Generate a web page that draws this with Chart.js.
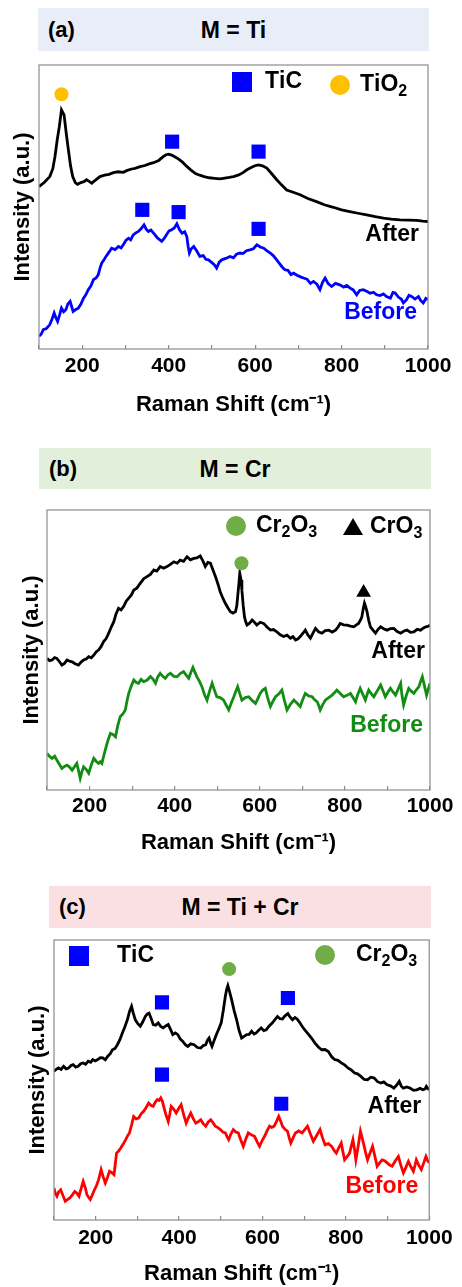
<!DOCTYPE html>
<html>
<head>
<meta charset="utf-8">
<script src="https://cdn.jsdelivr.net/npm/chart.js@4.4.0/dist/chart.umd.min.js"></script>
<style>
  body { margin: 0; background: #fff; }
  #page { position: relative; width: 462px; height: 1287px; font-family: "Liberation Sans", Arial, sans-serif; }
  .band { position: absolute; font-weight: bold; font-size: 23px; color: #000; }
  .band .tag { position: absolute; left: 10px; top: 50%; transform: translateY(-50%); font-size: 22px; }
  .band .name { position: absolute; left: 0; right: 0; top: 50%; transform: translateY(-50%); text-align: center; }
  canvas { position: absolute; left: 0; }
</style>
</head>
<body>
<div id="page">
  <div class="band" style="left:38px;top:8px;width:391px;height:43px;background:#e9edf7;">
    <span class="tag">(a)</span><span class="name">M = Ti</span>
  </div>
  <div class="band" style="left:39px;top:448px;width:392px;height:41px;background:#e2efda;">
    <span class="tag">(b)</span><span class="name">M = Cr</span>
  </div>
  <div class="band" style="left:49px;top:886px;width:382px;height:42px;background:#fbe0e3;">
    <span class="tag">(c)</span><span class="name">M = Ti + Cr</span>
  </div>
  <canvas id="chartA" width="462" height="375" style="top:55px"></canvas>
  <canvas id="chartB" width="462" height="370" style="top:490px"></canvas>
  <canvas id="chartC" width="462" height="357" style="top:930px"></canvas>
</div>

<script>
// x ticks that get a label (every 100 gets a tick mark)
const xTickLabels = [200, 400, 600, 800, 1000];

// (a) M = Ti
const aAfter = [[100,57.2],[112,58.6],[125,60.7],[132,63.5],[137,67.8],[142,73.5],[147,78.3],[152,84.2],[158,82.4],[163,76.0],[168,70.1],[173,64.5],[178,60.7],[184,58.6],[189,58.0],[197,58.6],[205,59.0],[210,59.6],[216,59.0],[222,58.4],[230,59.4],[241,60.7],[252,61.2],[262,61.5],[272,62.1],[283,62.4],[295,62.2],[303,62.8],[312,63.3],[322,63.6],[334,64.2],[345,64.6],[355,65.2],[365,65.6],[377,66.4],[388,67.8],[394,68.4],[400,68.6],[408,68.2],[420,67.2],[432,65.8],[442,64.3],[451,63.1],[462,61.8],[472,61.2],[482,60.7],[494,60.3],[506,60.1],[519,59.9],[530,60.2],[540,60.4],[550,60.7],[562,61.3],[572,62.1],[581,63.1],[592,64.0],[601,64.6],[608,64.8],[617,64.5],[627,63.7],[638,61.8],[650,59.6],[661,57.8],[673,56.0],[688,55.2],[704,54.3],[722,53.0],[742,51.9],[760,50.8],[781,49.9],[800,49.0],[819,48.4],[838,47.8],[858,47.2],[878,46.6],[897,46.1],[915,45.7],[935,45.5],[955,45.4],[974,45.3],[988,45.0],[1000,44.9]];
const aBefore = [[100,4.5],[105,5.2],[110,6.8],[117,7.2],[125,8.6],[130,10.5],[135,12.7],[139,11.0],[143,9.7],[148,12.2],[152,14.4],[157,13.1],[162,13.8],[167,15.9],[172,16.8],[176,14.7],[179,13.2],[185,13.9],[191,14.4],[197,15.8],[203,17.9],[208,19.0],[214,20.9],[220,22.2],[226,24.4],[232,25.0],[237,26.1],[241,28.4],[245,30.2],[250,31.3],[255,32.6],[262,34.1],[268,35.5],[276,35.0],[284,36.1],[290,35.6],[295,36.7],[301,38.2],[307,39.0],[312,38.4],[318,40.2],[324,40.9],[330,41.4],[336,42.3],[343,43.7],[348,42.2],[353,41.4],[359,41.9],[365,40.8],[374,39.1],[384,37.9],[390,39.0],[395,40.2],[401,41.6],[407,42.0],[413,42.6],[419,44.1],[425,42.0],[431,40.8],[437,41.3],[442,39.6],[445,36.2],[448,33.8],[452,35.2],[458,36.1],[465,34.5],[472,32.6],[480,32.9],[486,31.6],[492,31.4],[500,30.4],[506,29.6],[511,28.5],[517,30.6],[523,31.4],[532,31.9],[542,32.6],[550,32.1],[557,33.4],[565,33.8],[572,33.6],[580,34.6],[588,34.9],[596,35.3],[604,36.7],[612,35.9],[620,35.5],[627,34.6],[635,33.8],[642,32.9],[650,31.4],[657,30.0],[663,28.8],[669,27.9],[676,27.7],[683,26.2],[689,26.7],[697,26.0],[705,25.4],[712,25.0],[720,24.6],[728,23.1],[735,23.8],[743,22.8],[750,20.9],[756,23.5],[762,25.0],[769,23.0],[777,22.0],[786,23.1],[796,22.6],[805,21.8],[812,22.4],[819,21.5],[827,20.8],[835,19.1],[842,20.6],[850,20.9],[858,20.3],[866,19.6],[874,20.0],[881,19.1],[889,18.8],[897,19.4],[904,18.5],[913,17.9],[919,19.9],[924,19.7],[932,18.2],[938,17.6],[943,16.2],[950,17.3],[956,18.9],[962,18.5],[970,17.6],[978,18.5],[983,17.1],[989,16.2],[995,17.8],[1000,17.4]];
const aTiC = [[408,73.0],[608,69.5],[339,49.0],[423,48.2],[608,42.3]];
const aTiO2 = [[152,89.7]];

// (b) M = Cr
const bAfter = [[100,47.0],[106,46.2],[112,46.4],[118,47.3],[123,47.0],[129,45.9],[135,44.6],[141,45.2],[147,46.4],[153,46.0],[159,45.8],[166,45.1],[174,44.6],[180,45.7],[186,46.4],[192,46.8],[198,47.6],[204,47.2],[210,48.2],[216,49.4],[221,50.0],[227,51.2],[233,53.0],[239,54.1],[245,56.0],[251,58.2],[257,60.1],[262,62.8],[268,64.9],[274,64.3],[280,65.5],[286,67.4],[292,68.5],[298,69.6],[304,71.4],[311,72.1],[319,73.8],[327,75.4],[335,76.2],[343,77.0],[351,78.6],[358,78.2],[366,79.8],[374,79.2],[382,79.8],[390,80.6],[398,81.5],[406,81.0],[413,82.1],[421,81.7],[429,83.3],[437,82.2],[445,82.7],[452,82.9],[460,83.6],[466,81.9],[472,79.8],[478,81.3],[484,81.0],[490,78.6],[496,76.2],[502,73.4],[507,70.8],[513,68.6],[519,66.7],[525,65.1],[531,63.7],[537,63.2],[543,63.7],[546,65.8],[548,69.0],[551,73.8],[553,77.4],[556,75.0],[558,71.4],[561,66.0],[564,61.9],[567,60.1],[570,58.9],[576,59.6],[582,60.7],[588,59.8],[593,58.9],[601,59.9],[609,59.5],[617,58.2],[625,57.1],[632,57.3],[640,56.5],[648,55.4],[656,54.8],[664,55.3],[672,54.2],[678,54.8],[684,53.6],[690,54.0],[695,54.8],[701,55.9],[707,57.1],[713,55.4],[719,54.2],[725,56.0],[731,57.7],[738,56.5],[746,56.0],[754,56.9],[762,57.1],[770,56.4],[778,57.1],[784,58.2],[789,59.5],[797,59.0],[805,58.9],[813,58.5],[821,58.3],[827,59.0],[832,59.5],[837,60.8],[840,61.9],[843,64.6],[846,66.7],[849,65.4],[852,63.7],[856,60.6],[860,58.3],[866,57.1],[872,56.0],[878,57.4],[884,58.3],[891,57.6],[899,57.1],[907,57.6],[915,57.7],[923,56.6],[931,56.0],[939,56.8],[946,57.1],[954,56.3],[962,56.5],[970,57.4],[978,57.1],[984,57.8],[990,58.3],[995,58.4],[1000,58.9]];
const bBefore = [[100,13.1],[106,12.0],[112,11.3],[118,12.1],[123,10.7],[129,9.2],[135,7.7],[141,8.4],[147,8.9],[153,8.2],[159,7.1],[165,8.4],[170,9.5],[174,7.0],[178,4.2],[182,6.5],[186,8.3],[192,7.4],[198,6.0],[204,8.9],[210,11.3],[216,10.2],[221,9.5],[225,10.1],[229,9.5],[233,12.0],[237,14.3],[243,17.6],[249,20.2],[255,19.8],[261,19.0],[266,22.8],[272,26.2],[278,27.1],[284,28.6],[288,31.8],[292,34.5],[298,37.1],[304,39.3],[310,38.4],[315,38.1],[321,39.5],[327,38.7],[335,39.2],[343,40.5],[349,39.6],[355,38.1],[360,40.3],[366,41.7],[372,40.6],[378,39.9],[384,41.1],[390,41.7],[398,40.6],[406,40.5],[413,41.6],[421,42.3],[427,41.0],[433,39.9],[438,42.0],[443,43.8],[448,41.9],[452,40.5],[458,38.9],[464,36.9],[470,34.1],[476,32.1],[482,35.3],[488,38.1],[494,35.4],[499,33.3],[507,33.0],[515,32.1],[521,30.3],[527,28.6],[533,31.1],[539,33.3],[544,35.4],[548,36.9],[553,34.4],[558,32.1],[566,33.0],[574,33.3],[582,32.0],[590,30.9],[596,32.8],[601,34.5],[607,35.7],[613,36.3],[619,32.6],[625,29.8],[631,31.7],[637,33.3],[645,34.4],[652,35.7],[658,31.9],[664,28.6],[672,30.6],[680,32.1],[688,31.0],[695,29.8],[701,32.3],[707,34.5],[715,33.6],[723,33.3],[729,32.2],[735,31.5],[739,30.0],[742,28.6],[748,30.5],[754,32.1],[762,33.0],[770,33.9],[776,34.8],[781,35.7],[789,34.5],[797,33.3],[805,33.8],[813,34.5],[819,33.0],[825,31.5],[830,34.0],[836,36.3],[842,34.2],[848,32.1],[852,34.0],[856,35.7],[862,34.4],[868,33.3],[876,35.4],[884,37.5],[890,35.3],[895,33.3],[901,34.9],[907,36.3],[913,35.0],[919,33.9],[925,36.0],[931,38.1],[934,34.0],[938,30.4],[944,33.6],[950,36.3],[956,35.3],[962,34.5],[968,35.8],[974,36.9],[978,38.8],[982,40.5],[987,37.2],[992,33.9],[996,36.0],[1000,38.1]];
const bCr2O3 = [[557,81.0]];
const bCrO3 = [[844,70.5]];

// (c) M = Ti + Cr
const cAfter = [[100,53.1],[106,53.9],[111,54.3],[117,53.8],[123,54.9],[129,54.0],[135,54.3],[141,55.2],[146,55.5],[152,54.6],[158,54.9],[164,55.8],[170,56.1],[176,55.6],[182,56.7],[188,56.3],[193,57.3],[199,56.8],[205,57.3],[211,58.0],[217,57.9],[223,57.2],[229,58.5],[235,59.4],[240,60.8],[246,61.2],[252,62.6],[258,64.4],[264,66.8],[270,69.0],[276,71.5],[281,74.4],[286,76.3],[290,74.0],[295,71.5],[301,70.1],[307,69.2],[313,70.8],[319,72.7],[324,73.6],[328,73.9],[333,72.0],[338,69.8],[344,69.6],[350,70.4],[356,69.1],[362,68.6],[368,69.3],[374,69.8],[380,67.9],[385,66.2],[391,66.8],[397,66.2],[403,64.6],[409,63.8],[415,62.6],[421,62.0],[428,62.9],[436,62.6],[444,61.6],[452,61.4],[458,62.3],[464,62.6],[468,64.2],[472,65.0],[476,63.0],[479,62.0],[485,64.5],[491,66.8],[496,68.5],[501,70.4],[506,74.8],[511,79.9],[514,82.3],[517,83.7],[521,81.6],[526,78.7],[532,74.8],[538,71.5],[544,67.6],[550,65.0],[556,65.6],[562,66.2],[568,66.3],[574,67.4],[580,66.4],[585,66.8],[591,67.8],[597,68.6],[603,67.6],[609,67.9],[616,69.3],[624,70.4],[630,71.6],[636,72.7],[642,71.9],[648,71.8],[654,72.9],[661,73.7],[666,72.5],[672,71.5],[678,72.3],[683,71.8],[689,70.6],[695,69.2],[703,67.6],[711,66.2],[718,64.9],[726,63.2],[734,61.8],[742,60.8],[750,60.9],[758,60.2],[766,58.3],[773,57.3],[781,57.0],[789,56.1],[797,55.4],[805,54.3],[813,53.6],[821,52.5],[828,52.2],[836,51.3],[844,50.2],[852,50.1],[860,51.0],[868,50.7],[876,49.4],[884,48.9],[891,49.3],[899,48.3],[907,47.9],[915,47.1],[922,48.2],[928,49.5],[933,47.8],[938,47.1],[946,47.5],[954,47.1],[962,46.3],[970,46.5],[978,47.0],[985,46.5],[990,46.8],[993,47.7],[997,46.9],[1000,46.5]];
const cBefore = [[100,11.4],[103,9.6],[107,8.5],[111,10.0],[116,10.8],[121,8.9],[127,6.7],[133,7.4],[138,7.9],[144,9.0],[150,10.2],[155,9.6],[160,8.5],[165,11.2],[170,13.8],[175,11.6],[179,9.0],[183,8.1],[187,7.3],[192,9.0],[197,10.8],[202,12.3],[207,14.4],[210,16.2],[213,18.0],[218,15.4],[223,13.2],[228,15.1],[233,17.4],[238,17.0],[244,16.2],[247,20.0],[250,23.9],[255,24.6],[260,25.7],[266,27.1],[272,28.7],[277,30.2],[281,31.1],[286,33.9],[291,37.0],[297,36.1],[303,36.4],[309,37.9],[315,38.8],[321,40.2],[327,41.8],[333,40.9],[338,40.6],[343,42.1],[348,43.0],[352,42.7],[356,43.6],[360,42.4],[363,40.6],[368,37.8],[374,35.2],[378,38.0],[381,40.6],[387,39.6],[393,38.2],[399,39.8],[405,41.2],[411,37.6],[417,34.6],[422,36.4],[428,38.2],[434,36.2],[440,34.6],[446,35.1],[452,35.8],[458,34.4],[464,33.5],[470,35.0],[476,35.8],[482,34.6],[487,33.5],[493,33.0],[499,32.3],[505,31.4],[511,31.1],[515,29.8],[519,28.7],[524,30.6],[530,32.3],[536,31.4],[542,31.1],[548,28.6],[554,26.3],[560,28.9],[566,31.1],[573,30.4],[581,29.9],[587,28.0],[593,26.3],[599,28.3],[605,29.9],[611,31.8],[617,33.5],[622,33.1],[628,33.5],[634,35.3],[639,37.0],[644,35.2],[648,33.5],[654,32.4],[660,31.7],[664,29.4],[668,27.5],[674,29.5],[679,31.1],[687,31.8],[695,31.1],[701,32.2],[708,33.5],[715,30.7],[722,28.1],[730,30.2],[738,32.3],[744,29.4],[750,26.9],[758,27.3],[766,26.3],[771,25.0],[777,23.9],[783,25.8],[789,27.5],[793,24.4],[797,21.5],[803,22.6],[809,23.9],[813,26.4],[817,28.7],[821,25.0],[824,21.5],[830,26.8],[835,31.7],[840,28.8],[844,26.3],[848,23.7],[852,21.5],[858,23.9],[864,26.3],[870,22.5],[875,19.2],[881,20.4],[887,21.5],[893,21.2],[899,20.4],[905,19.6],[911,19.2],[918,21.0],[926,22.7],[932,19.5],[938,16.8],[944,18.8],[950,20.9],[956,19.0],[962,17.4],[966,19.6],[969,21.5],[975,19.5],[981,18.0],[987,20.5],[992,22.7],[996,21.2],[1000,20.4]];
const cTiC = [[359,77.7],[661,79.3],[359,51.9],[645,41.5]];
const cCr2O3 = [[520,89.6]];

const FONT = '"Liberation Sans", Arial, sans-serif';
const BLUE = '#0000ff', ORANGE = '#ffc000', LGREEN = '#70ad47', DGREEN = '#128c12', RED = '#ff0000';

const toXY = arr => arr.map(p => ({ x: p[0], y: p[1] }));

// text with "_" marking a subscript digit, e.g. "Cr_2O_3"
function richText(ctx, str, x, y) {
  let cx = x;
  for (let i = 0; i < str.length; i++) {
    if (str[i] === '_') {
      i++;
      ctx.font = 'bold 16px ' + FONT;
      ctx.fillText(str[i], cx, y + 7);
      cx += ctx.measureText(str[i]).width;
    } else {
      ctx.font = 'bold 23px ' + FONT;
      ctx.fillText(str[i], cx, y);
      cx += ctx.measureText(str[i]).width;
    }
  }
}

function symbol(ctx, kind, x, y, s, color) {
  ctx.fillStyle = color;
  ctx.beginPath();
  if (kind === 'rect') ctx.rect(x - s / 2, y - s / 2, s, s);
  else if (kind === 'circle') ctx.arc(x, y, s / 2, 0, Math.PI * 2);
  else { ctx.moveTo(x, y - s * 0.45); ctx.lineTo(x + s / 2, y + s * 0.4); ctx.lineTo(x - s / 2, y + s * 0.4); ctx.closePath(); }
  ctx.fill();
}

const decor = {
  id: 'decor',
  afterDraw(chart, args, opts) {
    const { ctx, chartArea: a } = chart;
    ctx.save();
    ctx.strokeStyle = '#8c8c8c';
    ctx.lineWidth = 1.2;
    ctx.strokeRect(a.left, a.top, a.right - a.left, a.bottom - a.top);
    ctx.textBaseline = 'middle';
    (opts.legend || []).forEach(k => {
      symbol(ctx, k.sym, a.left + k.sx, a.top + k.sy, 20, k.color);
      ctx.fillStyle = '#000';
      ctx.textAlign = 'left';
      richText(ctx, k.text, a.left + k.tx, a.top + k.sy);
    });
    (opts.labels || []).forEach(l => {
      ctx.fillStyle = l.color;
      ctx.textAlign = 'right';
      ctx.font = 'bold 23px ' + FONT;
      ctx.fillText(l.text, a.right - l.dx, a.top + l.dy);
    });
    ctx.restore();
  }
};

function panel(id, o) {
  const datasets = [];
  o.marks.forEach(m => datasets.push({
    type: 'scatter', data: toXY(m.data), pointStyle: m.style, pointRadius: m.r,
    backgroundColor: m.color, borderColor: m.color, borderWidth: 0
  }));
  o.lines.forEach(l => datasets.push({
    type: 'line', data: toXY(l.data), borderColor: l.color, borderWidth: 2.8,
    pointRadius: 0, tension: 0, fill: false
  }));
  new Chart(document.getElementById(id), {
    type: 'line',
    data: { datasets },
    options: {
      responsive: false,
      animation: false,
      layout: { padding: { left: 0, top: o.top, right: o.right, bottom: 0 } },
      plugins: { legend: { display: false }, tooltip: { enabled: false }, decor: o.decor },
      scales: {
        x: {
          type: 'linear', min: 100, max: 1000,
          afterFit: s => { s.height = o.xh; },
          ticks: {
            stepSize: 100, autoSkip: false, maxRotation: 0, padding: o.tp, color: '#000',
            font: { family: FONT, size: 21, weight: 'bold' },
            callback: v => xTickLabels.includes(v) ? String(v) : ''
          },
          grid: { drawOnChartArea: false, tickLength: -4, tickColor: '#8c8c8c', lineWidth: 1.2 },
          border: { display: false },
          title: {
            display: true, text: 'Raman Shift (cm⁻¹)', color: '#000',
            font: { family: FONT, size: 22, weight: 'bold' }, padding: { top: 0, bottom: o.tb }
          }
        },
        y: {
          min: 0, max: 100,
          afterFit: s => { s.width = o.yw; },
          ticks: { display: false },
          grid: { display: false },
          border: { display: false },
          title: {
            display: true, text: 'Intensity (a.u.)', color: '#000',
            font: { family: FONT, size: 22, weight: 'bold' }, padding: { top: o.yt, bottom: 0 }
          }
        }
      }
    },
    plugins: [decor]
  });
}

panel('chartA', {
  top: 10, right: 34, xh: 81, yw: 39, tp: 8.4, tb: 11.8, yt: 9.8,
  lines: [{ data: aAfter, color: '#000' }, { data: aBefore, color: BLUE }],
  marks: [
    { data: aTiC, style: 'rect', r: 10, color: BLUE },
    { data: aTiO2, style: 'circle', r: 7, color: ORANGE }
  ],
  decor: {
    legend: [
      { sym: 'rect', color: BLUE, sx: 203, sy: 17, tx: 226, text: 'TiC' },
      { sym: 'circle', color: ORANGE, sx: 301, sy: 20, tx: 321, text: 'TiO_2' }
    ],
    labels: [
      { text: 'After', color: '#000', dx: 9, dy: 170 },
      { text: 'Before', color: BLUE, dx: 11, dy: 248 }
    ]
  }
});

panel('chartB', {
  top: 20, right: 32, xh: 70, yw: 47, tp: 7.4, tb: 3.8, yt: 18.8,
  lines: [{ data: bAfter, color: '#000' }, { data: bBefore, color: DGREEN }],
  marks: [
    { data: bCr2O3, style: 'circle', r: 7, color: LGREEN },
    { data: bCrO3, style: 'triangle', r: 8.5, color: '#000' }
  ],
  decor: {
    legend: [
      { sym: 'circle', color: LGREEN, sx: 189, sy: 16, tx: 209, text: 'Cr_2O_3' },
      { sym: 'tri', color: '#000', sx: 306, sy: 17, tx: 323, text: 'CrO_3' }
    ],
    labels: [
      { text: 'After', color: '#000', dx: 5, dy: 142 },
      { text: 'Before', color: DGREEN, dx: 7, dy: 216 }
    ]
  }
});

panel('chartC', {
  top: 10, right: 26, xh: 67, yw: 54, tp: 9.4, tb: 0, yt: 24.8,
  lines: [{ data: cAfter, color: '#000' }, { data: cBefore, color: RED }],
  marks: [
    { data: cTiC, style: 'rect', r: 10, color: BLUE },
    { data: cCr2O3, style: 'circle', r: 7, color: LGREEN }
  ],
  decor: {
    legend: [
      { sym: 'rect', color: BLUE, sx: 25, sy: 16, tx: 63, text: 'TiC' },
      { sym: 'circle', color: LGREEN, sx: 271, sy: 15, tx: 302, text: 'Cr_2O_3' }
    ],
    labels: [
      { text: 'After', color: '#000', dx: 8, dy: 167 },
      { text: 'Before', color: RED, dx: 11, dy: 247 }
    ]
  }
});
</script>
</body>
</html>
